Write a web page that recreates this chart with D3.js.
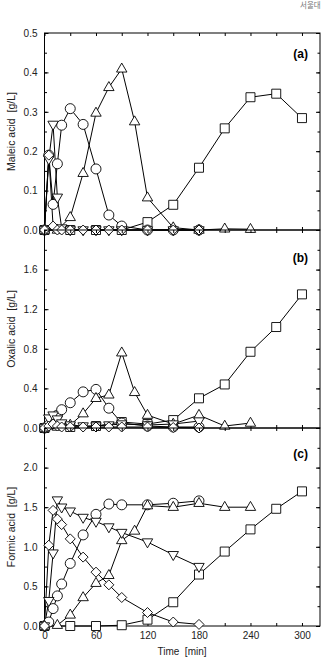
<!DOCTYPE html>
<html>
<head>
<meta charset="utf-8">
<script src="https://cdn.jsdelivr.net/npm/d3@7"></script>
<style>
  body { margin: 0; background: #fff; }
  svg { display: block; font-family: "Liberation Sans", Arial, sans-serif; }
</style>
</head>
<body>
<div id="chart"></div>
<script>
// values, [time (min), concentration (g/L)]
var maleicSquare  = [[0,0],[30,0],[60,0],[90,0],[120,0.02],[150,0.064],[180,0.158],[210,0.258],[240,0.337],[270,0.346],[300,0.284]];
var maleicCircle  = [[0,0],[5,0.19],[10,0.065],[15,0.168],[20,0.266],[30,0.308],[45,0.268],[60,0.155],[75,0.038],[90,0.01],[120,0],[150,0],[180,0]];
var maleicUp      = [[0,0],[15,0],[30,0.032],[45,0.144],[60,0.297],[75,0.362],[90,0.409],[105,0.275],[120,0.082],[150,0.006],[180,0],[210,0.003],[240,0.002]];
var maleicDown    = [[0,0],[5,0.18],[10,0.268],[15,0.083],[20,0.005],[30,0],[45,0],[60,0],[75,0],[90,0],[120,0],[150,0],[180,0]];
var maleicDiamond = [[0,0],[5,0.19],[10,0.01],[15,0],[20,0],[30,0],[45,0],[60,0],[75,0],[90,0],[120,0],[150,0],[180,0]];

var oxalicSquare  = [[0,0],[30,0.01],[60,0.02],[90,0.06],[120,0.04],[150,0.08],[180,0.30],[210,0.44],[240,0.77],[270,1.02],[300,1.35]];
var oxalicCircle  = [[0,0],[5,0.03],[10,0.08],[15,0.13],[20,0.185],[30,0.255],[45,0.365],[60,0.39],[75,0.2],[90,0.05],[120,0.02],[150,0.01],[180,0.01]];
var oxalicUp      = [[0,0],[15,0.01],[30,0.03],[45,0.145],[60,0.30],[75,0.335],[90,0.76],[105,0.36],[120,0.13],[150,0.04],[180,0.13],[210,0.02],[240,0.05]];
var oxalicDown    = [[0,0],[5,0.1],[10,0.13],[15,0.09],[20,0.05],[30,0.03],[45,0.02],[60,0.02],[75,0.03],[90,0.04],[120,0.03],[150,0.04],[180,0.07]];
var oxalicDiamond = [[0,0],[5,0.02],[10,0.04],[15,0.02],[20,0.01],[30,0.01],[45,0.01],[60,0.01],[75,0.01],[90,0.01],[120,0.01],[150,0.005],[180,0]];

var formicSquare  = [[0,0],[30,0],[60,0],[90,0.01],[120,0.08],[150,0.3],[180,0.65],[210,0.94],[240,1.22],[270,1.48],[300,1.7]];
var formicCircle  = [[0,0],[5,0.05],[10,0.22],[15,0.38],[20,0.53],[30,0.79],[45,1.15],[60,1.41],[75,1.54],[90,1.53],[120,1.53],[150,1.55],[180,1.58]];
var formicUp      = [[0,0],[15,0.01],[30,0.14],[45,0.36],[60,0.54],[75,0.64],[90,1.08],[105,1.2],[120,1.52],[150,1.5],[180,1.55],[210,1.5],[240,1.5]];
var formicDown    = [[0,0],[5,0.32],[10,0.92],[15,1.59],[20,1.5],[30,1.45],[45,1.37],[60,1.32],[75,1.25],[90,1.18],[120,1.06],[150,0.9],[180,0.75]];
var formicDiamond = [[0,0],[5,1.02],[10,1.46],[15,1.35],[20,1.28],[30,1.1],[45,0.87],[60,0.68],[75,0.52],[90,0.36],[120,0.17],[150,0.05],[180,0.02]];

var xTickLabels = [0, 60, 120, 180, 240, 300];
var maleicTicks = [0, 0.1, 0.2, 0.3, 0.4, 0.5];
var oxalicTicks = [0, 0.4, 0.8, 1.2, 1.6];
var formicTicks = [0, 0.5, 1.0, 1.5, 2.0];

var W = 327, H = 660;
var left = 44.5, right = 320;

var svg = d3.select("#chart").append("svg")
    .attr("width", W)
    .attr("height", H);

// small caption in the top right corner
svg.append("text")
    .attr("x", 300).attr("y", 8)
    .attr("font-family", "Noto Sans CJK KR")
    .attr("font-size", 7.5)
    .attr("fill", "#777")
    .text("서울대");

var x = d3.scaleLinear().domain([0, 321]).range([left, right]);

// marker shapes, drawn around 0,0
var shapes = {
    square: function(s) { return "M-4.5,-4.5H4.5V4.5H-4.5Z"; },
    circle: function(s) { return "M5,0A5,5 0 1,1 -5,0A5,5 0 1,1 5,0Z"; },
    up: function(s) { return "M0,-5.8L5.2,3.2H-5.2Z"; },
    down: function(s) { return "M0,5.8L5.2,-3.2H-5.2Z"; },
    diamond: function(s) { return "M0,-5L5,0L0,5L-5,0Z"; }
};

var panels = [
    {label: "(a)", title: "Maleic acid  [g/L]", top: 33, bottom: 230, max: 0.5,
     ticks: maleicTicks, minor: 0.05, fmt: d3.format(".1f"), letterY: 25,
     series: [[maleicSquare,"square"],[maleicCircle,"circle"],[maleicUp,"up"],[maleicDown,"down"],[maleicDiamond,"diamond"]]},
    {label: "(b)", title: "Oxalic acid  [g/L]", top: 230, bottom: 428, max: 2.0,
     ticks: oxalicTicks, minor: 0.2, fmt: d3.format(".1f"), letterY: 32,
     series: [[oxalicSquare,"square"],[oxalicCircle,"circle"],[oxalicUp,"up"],[oxalicDown,"down"],[oxalicDiamond,"diamond"]]},
    {label: "(c)", title: "Formic acid  [g/L]", top: 428, bottom: 626, max: 2.5,
     ticks: formicTicks, minor: 0.25, fmt: d3.format(".1f"), letterY: 30,
     series: [[formicSquare,"square"],[formicCircle,"circle"],[formicUp,"up"],[formicDown,"down"],[formicDiamond,"diamond"]]}
];

var xMinor = d3.range(0, 321, 30);

panels.forEach(function(p, i) {
    var y = d3.scaleLinear().domain([0, p.max]).range([p.bottom, p.top]);
    var g = svg.append("g");
    var yMinor = d3.range(0, p.max + 1e-9, p.minor);

    // frame
    g.append("rect")
        .attr("x", left).attr("y", p.top)
        .attr("width", right - left).attr("height", p.bottom - p.top)
        .attr("fill", "none").attr("stroke", "#000").attr("stroke-width", 1);

    // y axes, ticks pointing in
    var yl = g.append("g").attr("transform", "translate(" + left + ",0)")
        .call(d3.axisLeft(y).tickValues(yMinor).tickSize(-2.5).tickFormat(""));
    var yl2 = g.append("g").attr("transform", "translate(" + left + ",0)")
        .call(d3.axisLeft(y).tickValues(p.ticks).tickSize(-4).tickPadding(7).tickFormat(p.fmt));
    var yr = g.append("g").attr("transform", "translate(" + right + ",0)")
        .call(d3.axisRight(y).tickValues(yMinor).tickSize(-2.5).tickFormat(""));
    var yr2 = g.append("g").attr("transform", "translate(" + right + ",0)")
        .call(d3.axisRight(y).tickValues(p.ticks).tickSize(-4).tickFormat(""));

    // x ticks top and bottom
    var xt = g.append("g").attr("transform", "translate(0," + p.top + ")")
        .call(d3.axisTop(x).tickValues(xMinor).tickSize(-3).tickFormat(""));
    var xb = g.append("g").attr("transform", "translate(0," + p.bottom + ")")
        .call(d3.axisBottom(x).tickValues(xMinor).tickSize(-3).tickFormat(""));

    [yl, yl2, yr, yr2, xt, xb].forEach(function(a) {
        a.select(".domain").remove();
        a.selectAll("text").attr("font-size", 10).attr("fill", "#222")
            .attr("font-family", "Liberation Sans, Arial, sans-serif");
    });

    if (i == panels.length - 1) {
        var xl = g.append("g").attr("transform", "translate(0," + p.bottom + ")")
            .call(d3.axisBottom(x).tickValues(xTickLabels).tickSize(0).tickPadding(6));
        xl.select(".domain").remove();
        xl.selectAll("text").attr("font-size", 10).attr("fill", "#222")
            .attr("font-family", "Liberation Sans, Arial, sans-serif");
    }

    // y title
    g.append("text")
        .attr("transform", "translate(15," + ((p.top + p.bottom) / 2) + ") rotate(-90)")
        .attr("text-anchor", "middle")
        .attr("font-size", 10.5)
        .attr("fill", "#222")
        .attr("xml:space", "preserve")
        .style("white-space", "pre")
        .text(p.title);

    // panel letter
    g.append("text")
        .attr("x", 308).attr("y", p.top + p.letterY)
        .attr("text-anchor", "end")
        .attr("font-size", 12)
        .attr("font-weight", "bold")
        .text(p.label);

    var line = d3.line()
        .x(function(d) { return x(d[0]); })
        .y(function(d) { return y(d[1]); });

    p.series.forEach(function(s) {
        g.append("path")
            .datum(s[0])
            .attr("d", line)
            .attr("fill", "none")
            .attr("stroke", "#000")
            .attr("stroke-width", 1);
    });
    p.series.forEach(function(s) {
        g.selectAll(null)
            .data(s[0])
            .enter().append("path")
            .attr("transform", function(d) { return "translate(" + x(d[0]) + "," + y(d[1]) + ")"; })
            .attr("d", shapes[s[1]])
            .attr("fill", "#fff")
            .attr("stroke", "#000")
            .attr("stroke-width", 0.9);
    });
});

svg.append("text")
    .attr("x", 182).attr("y", 655)
    .attr("text-anchor", "middle")
    .attr("font-size", 10)
    .attr("fill", "#222")
    .attr("xml:space", "preserve")
    .style("white-space", "pre")
    .text("Time  [min]");
</script>
</body>
</html>
